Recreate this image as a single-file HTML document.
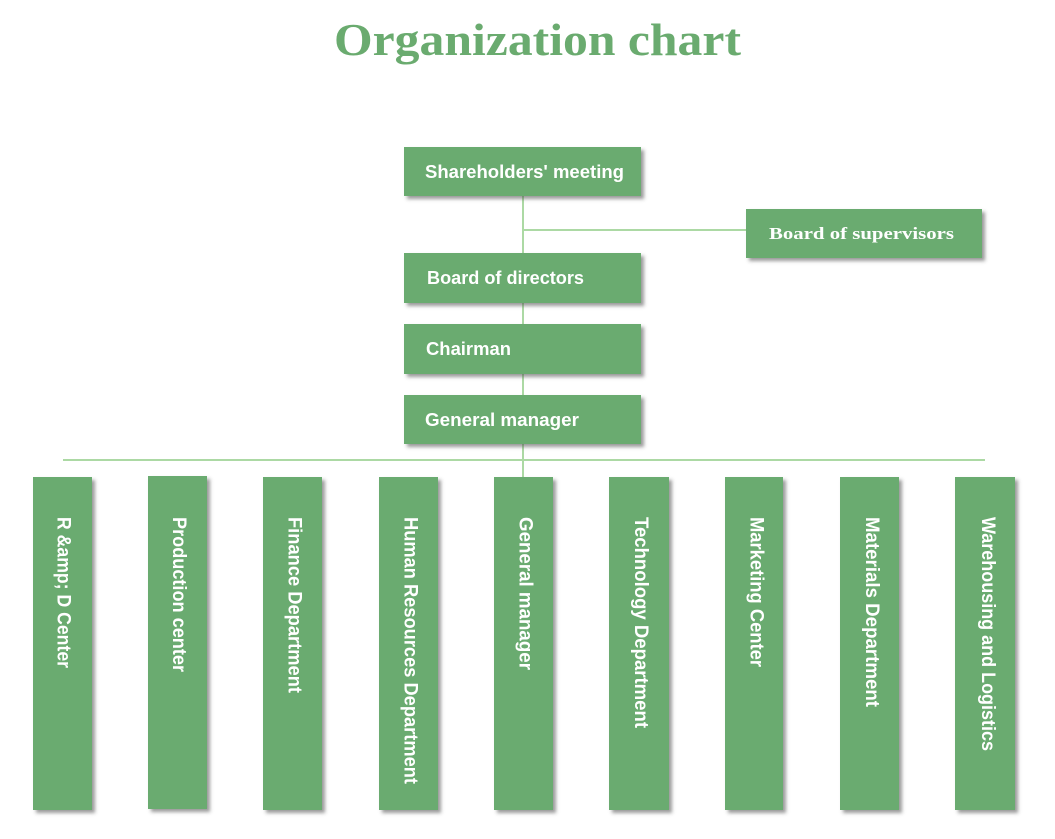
<!DOCTYPE html>
<html>
<head>
<meta charset="utf-8">
<style>
  html, body { margin: 0; padding: 0; background: #ffffff; }
  body { width: 1055px; height: 839px; overflow: hidden; }
  svg { display: block; }
</style>
</head>
<body>
<svg width="1055" height="839" viewBox="0 0 1055 839" xmlns="http://www.w3.org/2000/svg">
  <defs>
    <filter id="sh" x="-20%" y="-20%" width="150%" height="150%">
      <feDropShadow dx="3" dy="3" stdDeviation="1.8" flood-color="#4a4a4a" flood-opacity="0.55"/>
    </filter>
  </defs>

  <!-- Title -->
  <text x="334" y="55" font-family="'Liberation Serif', serif" font-weight="bold" font-size="46" fill="#6aab6f" textLength="407" lengthAdjust="spacingAndGlyphs">Organization chart</text>

  <!-- Connector lines -->
  <g stroke="#acd9a4" fill="none">
    <line x1="523" y1="196" x2="523" y2="477" stroke-width="2"/>
    <line x1="523" y1="230" x2="746" y2="230" stroke-width="2"/>
    <line x1="63" y1="460" x2="985" y2="460" stroke-width="2"/>
  </g>

  <!-- Top boxes -->
  <g fill="#6aab6f" filter="url(#sh)">
    <rect x="404" y="147" width="237" height="49"/>
    <rect x="404" y="253" width="237" height="50"/>
    <rect x="404" y="324" width="237" height="50"/>
    <rect x="404" y="395" width="237" height="49"/>
    <rect x="746" y="209" width="236" height="49"/>
  </g>

  <g font-family="'Liberation Sans', sans-serif" font-weight="bold" font-size="18" fill="#ffffff">
    <text x="425" y="178" textLength="199" lengthAdjust="spacingAndGlyphs">Shareholders' meeting</text>
    <text x="427" y="284" textLength="157" lengthAdjust="spacingAndGlyphs">Board of directors</text>
    <text x="426" y="355" textLength="85" lengthAdjust="spacingAndGlyphs">Chairman</text>
    <text x="425" y="426" textLength="154" lengthAdjust="spacingAndGlyphs">General manager</text>
  </g>
  <text x="769" y="239" font-family="'Liberation Serif', serif" font-weight="bold" font-size="17" fill="#ffffff" textLength="185" lengthAdjust="spacingAndGlyphs">Board of supervisors</text>

  <!-- Bottom boxes -->
  <g fill="#6aab6f" filter="url(#sh)">
    <rect x="33" y="477" width="59" height="333"/>
    <rect x="148" y="476" width="59" height="333"/>
    <rect x="263" y="477" width="59" height="333"/>
    <rect x="379" y="477" width="59" height="333"/>
    <rect x="494" y="477" width="59" height="333"/>
    <rect x="609" y="477" width="60" height="333"/>
    <rect x="725" y="477" width="58" height="333"/>
    <rect x="840" y="477" width="59" height="333"/>
    <rect x="955" y="477" width="60" height="333"/>
  </g>

  <g font-family="'Liberation Sans', sans-serif" font-weight="bold" font-size="19" fill="#ffffff">
    <text transform="translate(57.5,517) rotate(90)" textLength="151" lengthAdjust="spacingAndGlyphs">R &amp;amp; D Center</text>
    <text transform="translate(173,517) rotate(90)" textLength="155" lengthAdjust="spacingAndGlyphs">Production center</text>
    <text transform="translate(288.5,517) rotate(90)" textLength="176" lengthAdjust="spacingAndGlyphs">Finance Department</text>
    <text transform="translate(404.5,517) rotate(90)" textLength="267" lengthAdjust="spacingAndGlyphs">Human Resources Department</text>
    <text transform="translate(519.5,517) rotate(90)" textLength="153" lengthAdjust="spacingAndGlyphs">General manager</text>
    <text transform="translate(635,517) rotate(90)" textLength="211" lengthAdjust="spacingAndGlyphs">Technology Department</text>
    <text transform="translate(750.5,517) rotate(90)" textLength="150" lengthAdjust="spacingAndGlyphs">Marketing Center</text>
    <text transform="translate(866,517) rotate(90)" textLength="190" lengthAdjust="spacingAndGlyphs">Materials Department</text>
    <text transform="translate(982,517) rotate(90)" textLength="234" lengthAdjust="spacingAndGlyphs">Warehousing and Logistics</text>
  </g>
</svg>
</body>
</html>
